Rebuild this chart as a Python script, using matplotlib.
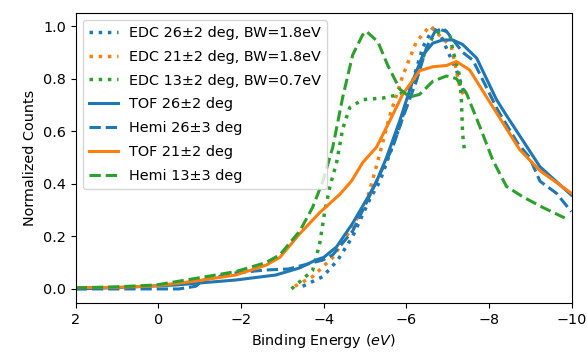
import matplotlib
matplotlib.use("Agg")
import matplotlib.pyplot as plt
import numpy as np

# EDC cuts (dotted)
edc26_e = [-3.49, -3.98, -4.34, -4.70, -5.11, -5.36, -5.52, -5.84, -6.15, -6.40, -6.64, -6.73, -7.24, -7.41]
edc26_v = [0.01, 0.047, 0.11, 0.20, 0.34, 0.41, 0.48, 0.62, 0.79, 0.92, 0.99, 1.0, 0.82, 0.74]

edc21_e = [-3.30, -3.73, -4.22, -4.63, -5.03, -5.28, -5.60, -5.91, -6.24, -6.57, -7.09, -7.29, -7.41]
edc21_v = [0.01, 0.047, 0.12, 0.22, 0.33, 0.47, 0.66, 0.81, 0.94, 1.0, 0.92, 0.77, 0.73]

edc13_e = [-3.22, -3.73, -3.90, -4.02, -4.15, -4.31, -4.46, -4.63, -4.94, -5.43, -5.84, -6.15,
           -6.40, -6.64, -6.88, -7.05, -7.12, -7.29, -7.33, -7.36, -7.41]
edc13_v = [0.0, 0.07, 0.17, 0.29, 0.39, 0.48, 0.61, 0.69, 0.72, 0.726, 0.74, 0.77,
           0.88, 0.96, 0.99, 0.97, 0.91, 0.81, 0.72, 0.59, 0.52]

# TOF / hemispherical analyser spectra
tof26_e = [2.0, 1.0, -0.42, -1.87, -2.84, -3.42, -3.81, -4.0, -4.31, -4.70, -5.11, -5.28, -5.52,
           -5.84, -6.15, -6.40, -6.64, -6.88, -7.12, -7.36, -7.70, -8.18, -8.42, -9.23, -9.99]
tof26_v = [0.0, 0.005, 0.015, 0.034, 0.053, 0.08, 0.11, 0.12, 0.16, 0.25, 0.36, 0.41, 0.50,
           0.64, 0.79, 0.89, 0.935, 0.947, 0.947, 0.93, 0.878, 0.72, 0.66, 0.465, 0.357]

hemi26_e = [2.0, 1.0, 0.0, -0.5, -0.9, -1.1, -1.8, -2.6, -3.15, -3.98, -4.22, -4.70, -5.19, -5.67,
            -5.91, -6.24, -6.49, -6.73, -6.97, -7.36, -7.61, -8.21, -8.69, -8.98, -9.23, -9.63, -9.99]
hemi26_v = [0.0, 0.0, 0.0, 0.0, 0.01, 0.034, 0.06, 0.072, 0.076, 0.11, 0.13, 0.22, 0.38, 0.54,
            0.65, 0.79, 0.92, 0.99, 0.98, 0.90, 0.87, 0.68, 0.555, 0.50, 0.41, 0.364, 0.294]

tof21_e = [2.0, 1.0, 0.06, -0.90, -1.87, -2.60, -2.94, -3.42, -3.90, -4.39, -4.67, -4.94, -5.28,
           -5.60, -5.91, -6.32, -6.64, -6.97, -7.21, -7.53, -7.94, -8.50, -8.74, -9.23, -9.99]
tof21_v = [0.005, 0.006, 0.012, 0.03, 0.053, 0.09, 0.12, 0.21, 0.29, 0.36, 0.41, 0.48, 0.54,
           0.64, 0.74, 0.83, 0.845, 0.85, 0.865, 0.833, 0.73, 0.59, 0.53, 0.45, 0.364]

hemi13_e = [2.0, 1.03, 0.06, -0.90, -1.87, -2.60, -2.94, -3.42, -3.73, -3.98, -4.22, -4.46, -4.70,
            -4.94, -5.03, -5.31, -5.55, -5.84, -6.08, -6.32, -6.64, -6.97, -7.21, -7.45, -7.77,
            -8.09, -8.42, -8.82, -9.30, -9.83]
hemi13_v = [0.004, 0.008, 0.015, 0.04, 0.066, 0.10, 0.13, 0.22, 0.31, 0.41, 0.54, 0.73, 0.89,
            0.966, 0.98, 0.94, 0.85, 0.76, 0.73, 0.74, 0.79, 0.81, 0.80, 0.745, 0.62,
            0.49, 0.39, 0.35, 0.31, 0.27]

plt.rcParams['font.size'] = 10.4

fig, ax = plt.subplots(figsize=(5.87, 3.58), dpi=100)
fig.subplots_adjust(left=0.129, right=0.974, bottom=0.154, top=0.964)

lw = 2.2
ax.plot(edc26_e, edc26_v, ':', color='C0', lw=2.5, label='EDC 26\u00b12 deg, BW=1.8eV')
ax.plot(edc21_e, edc21_v, ':', color='C1', lw=2.5, label='EDC 21\u00b12 deg, BW=1.8eV')
ax.plot(edc13_e, edc13_v, ':', color='C2', lw=2.5, label='EDC 13\u00b12 deg, BW=0.7eV')
ax.plot(tof26_e, tof26_v, '-', color='C0', lw=lw, label='TOF 26\u00b12 deg')
ax.plot(hemi26_e, hemi26_v, '--', color='C0', lw=lw, label='Hemi 26\u00b13 deg')
ax.plot(tof21_e, tof21_v, '-', color='C1', lw=lw, label='TOF 21\u00b12 deg')
ax.plot(hemi13_e, hemi13_v, '--', color='C2', lw=lw, label='Hemi 13\u00b13 deg')

ax.set_xlim(2, -10)
ax.set_ylim(-0.053, 1.05)
ax.set_xlabel('Binding Energy ($eV$)')
ax.set_ylabel('Normalized Counts')
ax.legend(loc='upper left', labelspacing=0.68)

fig.savefig('out.png', dpi=100)
